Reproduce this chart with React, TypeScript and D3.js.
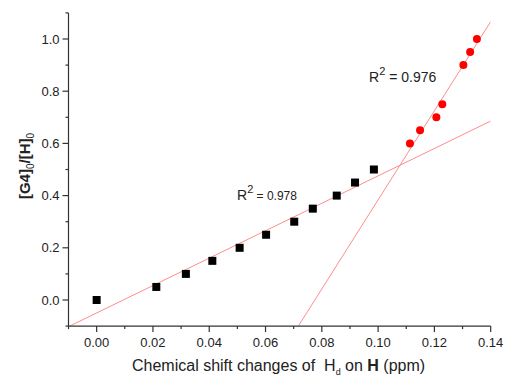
import React from "react";
import * as d3 from "d3";

const squareX = [0.0, 0.0212, 0.0317, 0.0411, 0.0508, 0.0602, 0.0702, 0.0768, 0.0853, 0.0918, 0.0985];
const squareY = [0.0, 0.05, 0.1, 0.15, 0.2, 0.25, 0.3, 0.35, 0.4, 0.45, 0.5];
const circleX = [0.1113, 0.1149, 0.1207, 0.1228, 0.1303, 0.1327, 0.1351];
const circleY = [0.6, 0.65, 0.7, 0.75, 0.9, 0.95, 1.0];
const xMajor = [0, 0.02, 0.04, 0.06, 0.08, 0.1, 0.12, 0.14];
const xMinor = [-0.01, 0.01, 0.03, 0.05, 0.07, 0.09, 0.11, 0.13];
const yMajor = [0, 0.2, 0.4, 0.6, 0.8, 1.0];
const yMinor = [-0.1, 0.1, 0.3, 0.5, 0.7, 0.9, 1.1];
const r2Labels = ["0.978", "0.976"];

function fit(xs: number[], ys: number[]) {
  const mx = d3.mean(xs)!;
  const my = d3.mean(ys)!;
  let sxy = 0, sxx = 0;
  xs.forEach((x, i) => {
    sxy += (x - mx) * (ys[i] - my);
    sxx += (x - mx) * (x - mx);
  });
  const slope = sxy / sxx;
  return { slope, intercept: my - slope * mx };
}

export default function App() {
  const W = 507, H = 382;
  const x = d3.scaleLinear().domain([-0.01, 0.14]).range([68.5, 490.7]);
  const y = d3.scaleLinear().domain([-0.1, 1.1]).range([326.1, 12.9]);
  const f1 = fit(squareX, squareY);
  const f2 = fit(circleX, circleY);
  const xs = [-0.01, 0.14];
  const line = d3.line<number>().x((d) => x(d[0])).y((d) => y(d[1]));
  const l1 = line(xs.map((v) => [v, f1.intercept + f1.slope * v]) as any);
  const l2 = line(xs.map((v) => [v, f2.intercept + f2.slope * v]) as any);
  const fmtX = d3.format(".2f");
  const fmtY = d3.format(".1f");
  const axisColor = "#333";
  const font = "Liberation Sans, Arial, sans-serif";
  return (
    <svg width={W} height={H} style={{ position: "absolute", left: 0, top: 0, background: "#fff" }} fontFamily={font}>
      <defs>
        <clipPath id="plot">
          <rect x={x(-0.01)} y={y(1.1)} width={x(0.14) - x(-0.01)} height={y(-0.1) - y(1.1)} />
        </clipPath>
      </defs>
      <g clipPath="url(#plot)">
        <path d={l1 || ""} stroke="#ff8c8c" strokeWidth={1} fill="none" />
        <path d={l2 || ""} stroke="#ff8c8c" strokeWidth={1} fill="none" />
      </g>
      {/* axes */}
      <line x1={x(-0.01)} x2={x(0.14)} y1={y(-0.1)} y2={y(-0.1)} stroke={axisColor} strokeWidth={1.2} />
      <line x1={x(-0.01)} x2={x(-0.01)} y1={y(-0.1)} y2={y(1.1)} stroke={axisColor} strokeWidth={1.2} />
      {xMajor.map((v) => (
        <g key={"xm" + v}>
          <line x1={x(v)} x2={x(v)} y1={y(-0.1)} y2={y(-0.1) + 6} stroke={axisColor} strokeWidth={1.2} />
          <text x={x(v)} y={y(-0.1) + 21} fontSize={13} textAnchor="middle" fill="#222">{fmtX(v)}</text>
        </g>
      ))}
      {xMinor.map((v) => (
        <line key={"xn" + v} x1={x(v)} x2={x(v)} y1={y(-0.1)} y2={y(-0.1) + 3} stroke={axisColor} strokeWidth={1.2} />
      ))}
      {yMajor.map((v) => (
        <g key={"ym" + v}>
          <line x1={x(-0.01)} x2={x(-0.01) - 6} y1={y(v)} y2={y(v)} stroke={axisColor} strokeWidth={1.2} />
          <text x={x(-0.01) - 9} y={y(v) + 4.5} fontSize={13} textAnchor="end" fill="#222">{fmtY(v)}</text>
        </g>
      ))}
      {yMinor.map((v) => (
        <line key={"yn" + v} x1={x(-0.01)} x2={x(-0.01) - 3} y1={y(v)} y2={y(v)} stroke={axisColor} strokeWidth={1.2} />
      ))}
      {/* data */}
      {squareX.map((v, i) => (
        <rect key={"s" + i} x={x(v) - 4} y={y(squareY[i]) - 4} width={8} height={8} fill="#000" />
      ))}
      {circleX.map((v, i) => (
        <circle key={"c" + i} cx={x(v)} cy={y(circleY[i])} r={4} fill="#ff0000" />
      ))}
      {/* annotations */}
      <text x={237} y={200} fontSize={14} fill="#222">
        R<tspan dy={-7} fontSize={11}>2</tspan>
        <tspan dy={7} fontSize={12}> = {r2Labels[0]}</tspan>
      </text>
      <text x={369} y={82} fontSize={14} fill="#222">
        R<tspan dy={-7} fontSize={11}>2</tspan>
        <tspan dy={7}> = {r2Labels[1]}</tspan>
      </text>
      {/* axis titles */}
      <text x={132} y={371} fontSize={16} fill="#222" style={{ whiteSpace: "pre" }}>
        {"Chemical shift changes of  H"}
        <tspan dy={4} fontSize={9}>d</tspan>
        <tspan dy={-4}>{" on "}</tspan>
        <tspan fontWeight="bold">H</tspan>
        <tspan>{" (ppm)"}</tspan>
      </text>
      <text transform={`translate(30,166) rotate(-90)`} textAnchor="middle" fontSize={15} fontWeight="bold" fill="#222">
        [G4]<tspan dy={4} fontSize={10} fontWeight="normal">0</tspan>
        <tspan dy={-4}>/[H]</tspan>
        <tspan dy={4} fontSize={10} fontWeight="normal">0</tspan>
      </text>
    </svg>
  );
}
